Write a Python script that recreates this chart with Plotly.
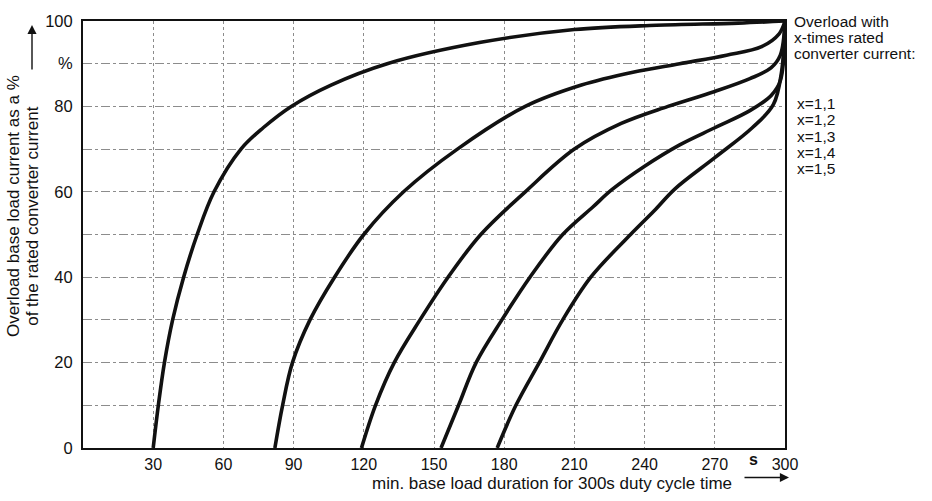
import plotly.graph_objects as go

# ---------------- data ----------------
x_11 = [30, 32.2, 34.8, 38.3, 43, 48.8, 56, 67.5, 77, 89, 106, 130, 170, 210, 245, 280, 300]
y_11 = [0, 10, 20, 30, 40, 50, 60, 70, 75, 80, 85, 90, 95, 98, 99, 99.5, 100]

x_12 = [82, 85.3, 89.5, 97, 107.5, 120, 137, 160, 189, 213, 235, 255, 275, 290, 297.5, 300]
y_12 = [0, 10, 20, 30, 40, 50, 60, 70, 80, 85, 88, 90, 92, 94, 97, 100]

x_13 = [119, 125, 133, 144, 156, 170, 189, 210, 230, 250, 270, 285, 294, 298, 300]
y_13 = [0, 10, 20, 30, 40, 50, 60, 70, 76, 80, 83.5, 86.5, 89, 92, 100]

x_14 = [153, 160.5, 168, 179, 191, 205, 218, 226, 240, 255, 270, 285, 294, 298, 300]
y_14 = [0, 10, 20, 30, 40, 50, 56.5, 60.5, 66, 71, 75, 79, 82.5, 86, 100]

x_15 = [177, 185, 195, 205, 217, 234, 244, 253, 270, 286, 295, 298.5, 300]
y_15 = [0, 10, 20, 30, 40, 50, 55.5, 60.7, 68, 75, 80.4, 88, 100]

series_labels = ["x=1,1", "x=1,2", "x=1,3", "x=1,4", "x=1,5"]

x_tickvals = [0, 30, 60, 90, 120, 150, 180, 210, 240, 270, 300]
x_ticktext = ["", "30", "60", "90", "120", "150", "180", "210", "240", "270", "300"]
y_tickvals = [0, 10, 20, 30, 40, 50, 60, 70, 80, 90, 100]
y_ticktext = ["0", "", "20", "", "40", "", "60", "", "80", "%", "100"]

x_title = "min. base load duration for 300s duty cycle time"
y_title_1 = "Overload base load current as a %"
y_title_2 = "of the rated converter current"
legend_title = ["Overload with", "x-times rated", "converter current:"]

# ---------------- layout geometry (screen pixels) ----------------
W, H = 932, 501
L, R, T, B = 83, 785, 14, 448  # plot area in pixels
PW, PH = R - L, B - T


def px(xp):
    return (xp - L) / PW


def py(yp):
    return (B - yp) / PH


FONT = "Arial, Liberation Sans, Helvetica, sans-serif"
INK = "#111111"

fig = go.Figure()
for xs, ys, name in zip([x_11, x_12, x_13, x_14, x_15],
                        [y_11, y_12, y_13, y_14, y_15], series_labels):
    fig.add_trace(go.Scatter(
        x=xs, y=ys, mode="lines", name=name,
        line=dict(color=INK, width=3.6, shape="spline", smoothing=1.0),
        showlegend=False, hoverinfo="skip"))

fig.update_layout(
    width=W, height=H,
    margin=dict(l=L, r=W - R, t=T, b=H - B, pad=0),
    paper_bgcolor="white", plot_bgcolor="white",
    font=dict(family=FONT, size=16, color=INK),
)

fig.update_xaxes(
    range=[0, 300], tickvals=x_tickvals, ticktext=x_ticktext,
    showgrid=True, gridcolor="#8c8c8c", gridwidth=1, griddash="dot",
    showline=True, mirror=True, linecolor=INK, linewidth=2,
    ticks="", ticklabelstandoff=1, ticklabeloverflow="allow",
    tickfont=dict(size=16, family=FONT, color=INK),
    zeroline=False,
)
fig.update_yaxes(
    range=[0, 100], tickvals=y_tickvals, ticktext=y_ticktext,
    showgrid=True, gridcolor="#8c8c8c", gridwidth=1, griddash="dashdot",
    showline=True, mirror=True, linecolor=INK, linewidth=2,
    ticks="", ticklabelstandoff=5, ticklabeloverflow="allow",
    tickfont=dict(size=16.5, family=FONT, color=INK),
    zeroline=False,
)


def text_ann(xp, yp, text, size=17, xanchor="center", angle=0):
    return dict(x=px(xp), y=py(yp), xref="paper", yref="paper", text=text,
                xanchor=xanchor, yanchor="middle", textangle=angle, borderpad=0,
                showarrow=False, font=dict(size=size, family=FONT, color=INK))


ann = []
# "s" unit on the x axis
ann.append(text_ann(753, 460, "<b>s</b>", size=16))
# x title
ann.append(text_ann(552, 484, x_title, size=17))
# x arrow
ann.append(dict(x=px(789), y=py(478), xref="paper", yref="paper", ax=-46, ay=0,
                text="", showarrow=True, arrowhead=2, arrowsize=1.3, arrowwidth=1.4,
                arrowcolor=INK))
# y titles
ann.append(text_ann(14, 202, y_title_1, size=17, angle=-90))
ann.append(text_ann(33, 212, y_title_2, size=17, angle=-90))
# y arrow
ann.append(dict(x=px(32), y=py(18), xref="paper", yref="paper", ax=0, ay=46,
                text="", showarrow=True, arrowhead=2, arrowsize=1.3, arrowwidth=1.4,
                arrowcolor=INK))
# right legend block
for i, t in enumerate(legend_title):
    ann.append(text_ann(793, 14 + 16.5 * i, t, size=15.5, xanchor="left"))
for i, t in enumerate(series_labels):
    ann.append(text_ann(796, 98 + 16.5 * i, t, size=15.5, xanchor="left"))

fig.update_layout(annotations=ann)
fig.write_html(
    "out.html",
    config={"displayModeBar": False},
    post_script="document.body.style.margin='0px';document.body.style.overflow='hidden';",
)
